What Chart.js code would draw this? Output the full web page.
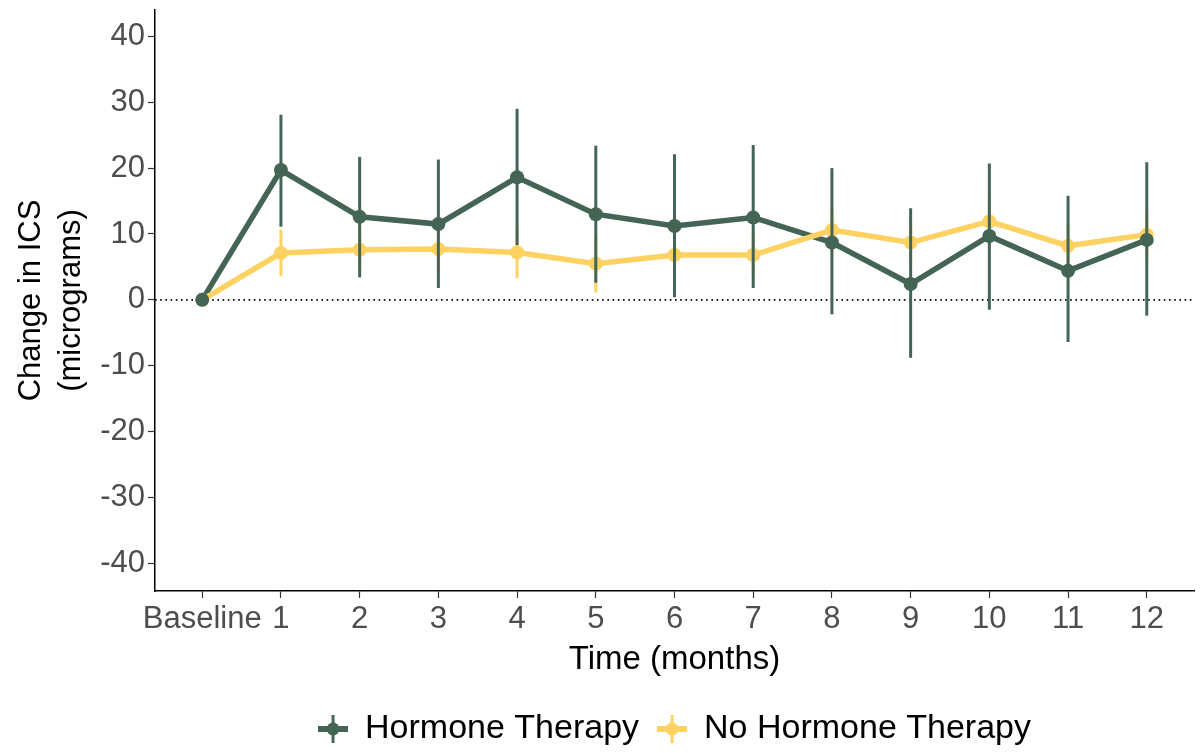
<!DOCTYPE html>
<html>
<head>
<meta charset="utf-8">
<script src="https://cdn.jsdelivr.net/npm/chart.js@4.4.1/dist/chart.umd.min.js"></script>
<style>
html,body{margin:0;padding:0;background:#fff;}
#wrap{width:1201px;height:753px;position:relative;}
</style>
</head>
<body>
<div id="wrap"><canvas id="c" width="1201" height="753"></canvas></div>
<script>
const timeLabels = ['Baseline','1','2','3','4','5','6','7','8','9','10','11','12'];
const hormoneMean = [0, 19.7, 12.6, 11.5, 18.6, 13.0, 11.2, 12.5, 8.7, 2.4, 9.7, 4.4, 9.1];
const hormoneLow  = [0, 11.1, 3.4, 1.8, 8.3, 2.6, 0.4, 1.8, -2.2, -8.8, -1.5, -6.4, -2.4];
const hormoneHigh = [0, 28.1, 21.7, 21.3, 29.0, 23.4, 22.1, 23.5, 20.0, 13.9, 20.7, 15.8, 20.9];
const noHormoneMean = [0, 7.1, 7.6, 7.7, 7.2, 5.5, 6.8, 6.8, 10.6, 8.7, 11.9, 8.2, 9.9];
const noHormoneLow  = [0, 3.6, 4.2, 4.2, 3.3, 1.1, 3.4, 3.5, 7.2, 5.4, 8.5, 4.9, 6.5];
const noHormoneHigh = [0, 10.6, 11.0, 11.2, 11.1, 9.9, 10.2, 10.1, 14.0, 12.0, 15.3, 11.5, 13.3];
const yTicks = [-40,-30,-20,-10,0,10,20,30,40];
const seriesNames = ['Hormone Therapy','No Hormone Therapy'];

const GREEN = '#446455';
const YELLOW = '#FDD262';
const FONT = '"Liberation Sans", Arial, sans-serif';

function pts(arr){ return arr.map((v,i)=>({x:i,y:v})); }

function legendIcon(color){
  const c = document.createElement('canvas');
  c.width = 30; c.height = 30;
  const g = c.getContext('2d');
  g.strokeStyle = color; g.fillStyle = color;
  g.lineWidth = 6; g.beginPath(); g.moveTo(0,15); g.lineTo(30,15); g.stroke();
  g.lineWidth = 3; g.beginPath(); g.moveTo(15,1); g.lineTo(15,29); g.stroke();
  g.beginPath(); g.arc(15,15,6.5,0,Math.PI*2); g.fill();
  return c;
}
const icons = [legendIcon(GREEN), legendIcon(YELLOW)];

const errBars = {
  1: {low: noHormoneLow, high: noHormoneHigh, color: YELLOW},
  0: {low: hormoneLow, high: hormoneHigh, color: GREEN}
};

const plugin = {
  id: 'extras',
  afterLayout(chart){
    const lg = chart.legend;
    if (lg) {
      lg.top += 3; lg.bottom += 3;
      lg.left = chart.chartArea.left; lg.right = chart.chartArea.right;
    }
  },
  beforeDatasetsDraw(chart){
    const {ctx, chartArea, scales:{y}} = chart;
    const py = y.getPixelForValue(0);
    ctx.save();
    ctx.strokeStyle = '#000';
    ctx.lineWidth = 1.6;
    ctx.setLineDash([1.6, 3.6]);
    ctx.beginPath(); ctx.moveTo(chartArea.left, py); ctx.lineTo(chartArea.right, py); ctx.stroke();
    ctx.restore();
  },
  beforeDatasetDraw(chart, args){
    const ds = chart.data.datasets[args.index];
    if (ds.errKey === undefined) return;
    const e = errBars[ds.errKey];
    const {ctx, scales:{x,y}} = chart;
    ctx.save();
    ctx.strokeStyle = e.color; ctx.lineWidth = 3; ctx.lineCap = 'butt';
    e.low.forEach((lo,i)=>{
      const hi = e.high[i];
      if (hi === lo) return;
      const px = x.getPixelForValue(i);
      ctx.beginPath(); ctx.moveTo(px, y.getPixelForValue(lo)); ctx.lineTo(px, y.getPixelForValue(hi)); ctx.stroke();
    });
    ctx.restore();
  }
};

new Chart(document.getElementById('c'), {
  type: 'line',
  data: {
    datasets: [
      {label: seriesNames[0], data: pts(hormoneMean), borderColor: GREEN, backgroundColor: GREEN, borderWidth: 5.5, pointRadius: 0, order: 4},
      {label: seriesNames[1], data: pts(noHormoneMean), borderColor: YELLOW, backgroundColor: YELLOW, borderWidth: 5.5, pointRadius: 0, order: 3},
      {label: seriesNames[1]+' pts', data: pts(noHormoneMean), showLine: false, borderColor: YELLOW, backgroundColor: YELLOW, pointRadius: 7, pointBorderWidth: 0, order: 2, errKey: 1},
      {label: seriesNames[0]+' pts', data: pts(hormoneMean), showLine: false, borderColor: GREEN, backgroundColor: GREEN, pointRadius: 7, pointBorderWidth: 0, order: 1, errKey: 0}
    ]
  },
  options: {
    responsive: false,
    animation: false,
    events: [],
    layout: {padding: {left: 8, right: 1, top: 10, bottom: 0}},
    plugins: {
      tooltip: {enabled: false},
      legend: {
        position: 'bottom',
        labels: {
          usePointStyle: true,
          pointStyleWidth: 30,
          padding: 18,
          color: '#000',
          font: {family: FONT, size: 34},
          generateLabels(chart){
            return seriesNames.map((n,i)=>({text: n, pointStyle: icons[i], fillStyle: i?YELLOW:GREEN, strokeStyle: i?YELLOW:GREEN, lineWidth: 0, datasetIndex: i, hidden: false, fontColor: '#000'}));
          }
        }
      }
    },
    scales: {
      x: {
        type: 'linear',
        min: -0.6, max: 12.6,
        afterBuildTicks(scale){ scale.ticks = timeLabels.map((_,i)=>({value:i})); },
        afterFit(scale){ scale.height = 100; scale.paddingLeft = 0; scale.paddingRight = 0; },
        ticks: {
          autoSkip: false, maxRotation: 0, minRotation: 0,
          color: '#4D4D4D', font: {family: FONT, size: 31}, padding: 3,
          callback: (v)=>timeLabels[v]
        },
        grid: {display: true, drawOnChartArea: false, drawTicks: true, tickLength: 7, tickColor: '#333', tickWidth: 1.2},
        border: {display: true, color: '#000', width: 1.5},
        title: {display: true, text: 'Time (months)', color: '#000', font: {family: FONT, size: 33}, padding: {top: 2, bottom: 11}}
      },
      y: {
        min: -44.2, max: 44,
        afterBuildTicks(scale){ scale.ticks = yTicks.map(v=>({value:v})); },
        afterFit(scale){ scale.width = 147; scale.paddingTop = 0; scale.paddingBottom = 0; },
        ticks: {color: '#4D4D4D', font: {family: FONT, size: 31}, padding: 3},
        grid: {display: true, drawOnChartArea: false, drawTicks: true, tickLength: 7, tickColor: '#333', tickWidth: 1.2},
        border: {display: true, color: '#000', width: 1.5},
        title: {display: true, text: ['Change in ICS','(micrograms)'], color: '#000', font: {family: FONT, size: 31, lineHeight: 1.3}, padding: {top: 3, bottom: 0}}
      }
    }
  },
  plugins: [plugin]
});
</script>
</body>
</html>
